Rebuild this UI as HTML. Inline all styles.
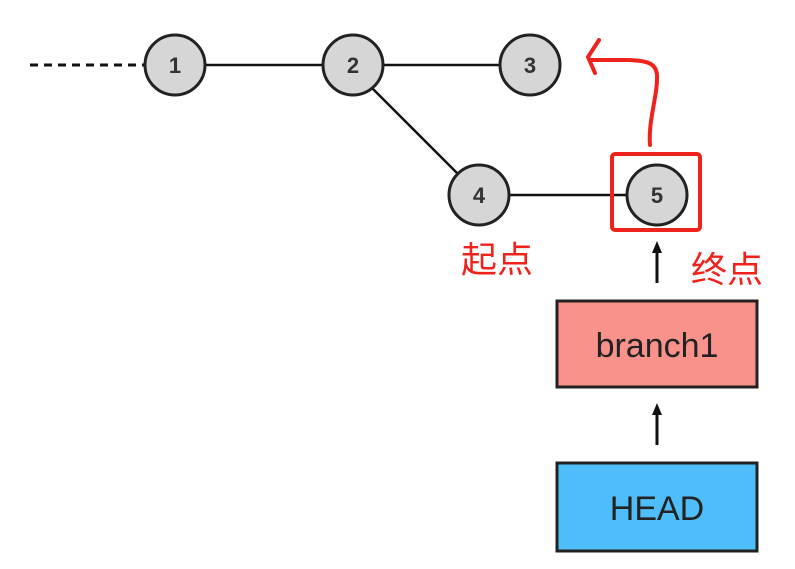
<!DOCTYPE html>
<html><head><meta charset="utf-8"><style>
html,body{margin:0;padding:0;background:#fff;}
svg{display:block;}
</style></head><body>
<svg width="795" height="569" xmlns="http://www.w3.org/2000/svg" font-family="Liberation Sans, Noto Sans CJK SC, sans-serif">
<defs><marker id="ah" markerUnits="userSpaceOnUse" markerWidth="12" markerHeight="12" refX="8" refY="5" orient="auto"><path d="M0,0 L12,5 L0,10 z" fill="#111"/></marker></defs>
<line x1="30" y1="65" x2="145" y2="65" stroke="#111" stroke-width="3" stroke-dasharray="8,6"/>
<line x1="205" y1="65" x2="323" y2="65" stroke="#111" stroke-width="2.5"/>
<line x1="383" y1="65" x2="500" y2="65" stroke="#111" stroke-width="2.5"/>
<line x1="372" y1="88" x2="458" y2="174" stroke="#111" stroke-width="2.5"/>
<line x1="509" y1="195" x2="627" y2="195" stroke="#111" stroke-width="2.5"/>
<g fill="#d6d6d6" stroke="#222" stroke-width="3">
<circle cx="175" cy="65" r="30"/><circle cx="353" cy="65" r="30"/><circle cx="530" cy="65" r="30"/>
<circle cx="479" cy="195" r="30"/><circle cx="657" cy="195" r="30"/></g>
<g font-size="22" font-weight="bold" text-anchor="middle" fill="#333">
<text x="175" y="73">1</text><text x="353" y="73">2</text><text x="530" y="73">3</text>
<text x="479" y="203">4</text><text x="657" y="203">5</text></g>
<rect x="612" y="154" width="88" height="76" rx="3" fill="none" stroke="#f0231c" stroke-width="4"/>
<path d="M650,145 C648,120 658,95 657,75 C656,62 645,61 630,60 L590,60 M599,40 L588,57 L595,73" fill="none" stroke="#f0231c" stroke-width="4" stroke-linecap="round" stroke-linejoin="round"/>
<line x1="657" y1="283" x2="657" y2="245" stroke="#111" stroke-width="3" marker-end="url(#ah)"/>
<line x1="657" y1="445" x2="657" y2="407" stroke="#111" stroke-width="3" marker-end="url(#ah)"/>
<rect x="557" y="301" width="200" height="86" fill="#f9928a" stroke="#222" stroke-width="3"/>
<rect x="557" y="463" width="200" height="88" fill="#50bdfb" stroke="#222" stroke-width="3"/>
<text x="657" y="357" font-size="34" text-anchor="middle" fill="#222">branch1</text>
<text x="657" y="520" font-size="34" text-anchor="middle" fill="#222">HEAD</text>
<text x="461" y="272" font-size="36" fill="#f0231c">起点</text>
<text x="691" y="282" font-size="36" fill="#f0231c">终点</text>
</svg>
</body></html>
